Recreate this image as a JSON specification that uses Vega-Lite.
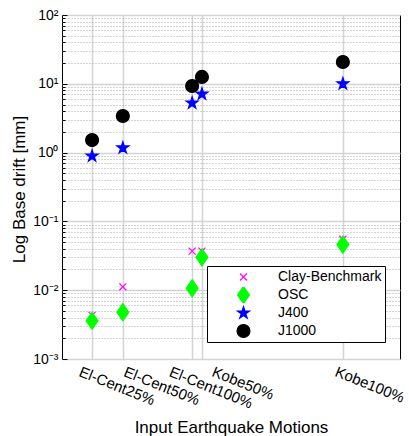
{
  "$schema": "https://vega.github.io/schema/vega-lite/v6.json",
  "width": 338,
  "height": 344,
  "autosize": {"type": "none"},
  "padding": {"left": 62, "top": 15, "right": 9, "bottom": 77},
  "background": "white",
  "config": {
    "font": "Liberation Sans",
    "view": {"stroke": "black", "strokeWidth": 1}
  },
  "data": {
    "values": [
      {"series": "Clay-Benchmark", "motion": "El-Cent25%", "pga": 0.089, "drift": 0.0043},
      {"series": "Clay-Benchmark", "motion": "El-Cent50%", "pga": 0.18, "drift": 0.0112},
      {"series": "Clay-Benchmark", "motion": "El-Cent100%", "pga": 0.385, "drift": 0.037},
      {"series": "Clay-Benchmark", "motion": "Kobe50%", "pga": 0.414, "drift": 0.037},
      {"series": "Clay-Benchmark", "motion": "Kobe100%", "pga": 0.831, "drift": 0.055},
      {"series": "OSC", "motion": "El-Cent25%", "pga": 0.089, "drift": 0.0036},
      {"series": "OSC", "motion": "El-Cent50%", "pga": 0.18, "drift": 0.0048},
      {"series": "OSC", "motion": "El-Cent100%", "pga": 0.385, "drift": 0.0107},
      {"series": "OSC", "motion": "Kobe50%", "pga": 0.414, "drift": 0.030},
      {"series": "OSC", "motion": "Kobe100%", "pga": 0.831, "drift": 0.046},
      {"series": "J400", "motion": "El-Cent25%", "pga": 0.089, "drift": 0.89},
      {"series": "J400", "motion": "El-Cent50%", "pga": 0.18, "drift": 1.17},
      {"series": "J400", "motion": "El-Cent100%", "pga": 0.385, "drift": 5.25},
      {"series": "J400", "motion": "Kobe50%", "pga": 0.414, "drift": 7.1},
      {"series": "J400", "motion": "Kobe100%", "pga": 0.831, "drift": 10.0},
      {"series": "J1000", "motion": "El-Cent25%", "pga": 0.089, "drift": 1.52},
      {"series": "J1000", "motion": "El-Cent50%", "pga": 0.18, "drift": 3.4},
      {"series": "J1000", "motion": "El-Cent100%", "pga": 0.385, "drift": 9.3},
      {"series": "J1000", "motion": "Kobe50%", "pga": 0.414, "drift": 12.6},
      {"series": "J1000", "motion": "Kobe100%", "pga": 0.831, "drift": 20.7}
    ]
  },
  "mark": {"type": "point", "filled": true, "strokeWidth": 1.2, "opacity": 1, "size": 289},
  "encoding": {
    "x": {
      "field": "pga",
      "type": "quantitative",
      "scale": {"domain": [0, 1], "nice": false, "zero": false},
      "axis": {
        "title": "Input Earthquake Motions",
        "titleFont": "Liberation Sans",
        "titleFontSize": 17,
        "titleFontWeight": "normal",
        "titleColor": "black",
        "titleBaseline": "alphabetic",
        "titleAlign": "center",
        "titleX": 169,
        "titleY": 73,
        "values": [0.089, 0.18, 0.385, 0.414, 0.831],
        "labelExpr": "datum.value < 0.1 ? 'El-Cent25%' : datum.value < 0.2 ? 'El-Cent50%' : datum.value < 0.4 ? 'El-Cent100%' : datum.value < 0.5 ? 'Kobe50%' : 'Kobe100%'",
        "labelAngle": 22,
        "labelAlign": "left",
        "labelBaseline": "top",
        "labelFontSize": 15,
        "labelColor": "black",
        "labelPadding": 5,
        "labelOffset": {"condition": [{"test": "datum.value < 0.1", "value": -10}, {"test": "datum.value < 0.2", "value": 4}, {"test": "datum.value < 0.4", "value": -20}, {"test": "datum.value < 0.5", "value": 13}], "value": -5},
        "labelFlush": false,
        "labelOverlap": false,
        "ticks": false,
        "domain": false,
        "grid": true,
        "gridColor": "#d4d4d4",
        "gridWidth": 1.5
      }
    },
    "y": {
      "field": "drift",
      "type": "quantitative",
      "scale": {"type": "log", "domain": [0.001, 100], "nice": false},
      "axis": {
        "title": "Log Base drift [mm]",
        "titleFont": "Liberation Sans",
        "titleFontSize": 17,
        "titleFontWeight": "normal",
        "titleColor": "black",
        "titleAngle": 270,
        "titleAlign": "center",
        "titleBaseline": "middle",
        "titleX": -43,
        "titleY": 174,
        "values": [0.001, 0.002, 0.003, 0.004, 0.005, 0.006, 0.007, 0.008, 0.009, 0.01, 0.02, 0.03, 0.04, 0.05, 0.06, 0.07, 0.08, 0.09, 0.1, 0.2, 0.3, 0.4, 0.5, 0.6, 0.7, 0.8, 0.9, 1, 2, 3, 4, 5, 6, 7, 8, 9, 10, 20, 30, 40, 50, 60, 70, 80, 90, 100],
        "labelExpr": "abs(log(datum.value)/LN10 - round(log(datum.value)/LN10)) > 0.001 ? '' : (round(log(datum.value)/LN10) == 2 ? '10²' : round(log(datum.value)/LN10) == 1 ? '10¹' : round(log(datum.value)/LN10) == 0 ? '10⁰' : round(log(datum.value)/LN10) == -1 ? '10⁻¹' : round(log(datum.value)/LN10) == -2 ? '10⁻²' : '10⁻³')",
        "labelFontSize": 14,
        "labelColor": "black",
        "labelPadding": {"condition": {"test": "abs(log(datum.value)/LN10 - round(log(datum.value)/LN10)) < 0.001", "value": 9}, "value": 7},
        "labelOverlap": false,
        "labelFlush": false,
        "ticks": true,
        "tickColor": "black",
        "tickWidth": 1,
        "tickSize": {"condition": {"test": "abs(log(datum.value)/LN10 - round(log(datum.value)/LN10)) < 0.001", "value": -5}, "value": -3},
        "domain": false,
        "grid": true,
        "gridColor": {"condition": {"test": "abs(log(datum.value)/LN10 - round(log(datum.value)/LN10)) < 0.001", "value": "#d4d4d4"}, "value": "#aaaaaa"},
        "gridDash": {"condition": {"test": "abs(log(datum.value)/LN10 - round(log(datum.value)/LN10)) < 0.001", "value": []}, "value": [1, 2]},
        "gridWidth": {"condition": {"test": "abs(log(datum.value)/LN10 - round(log(datum.value)/LN10)) < 0.001", "value": 1.5}, "value": 1}
      }
    },
    "fill": {
      "field": "series",
      "type": "nominal",
      "scale": {"domain": ["Clay-Benchmark", "OSC", "J400", "J1000"], "range": ["#ff00ff", "#00ff00", "#0000ff", "#000000"]},
      "legend": {
        "title": null,
        "orient": "none",
        "legendX": 145,
        "legendY": 251,
        "fillColor": "white",
        "strokeColor": "black",
        "padding": 3,
        "symbolOffset": 24,
        "labelOffset": 25,
        "rowPadding": 2,
        "clipHeight": 16,
        "symbolSize": 289,
        "labelFontSize": 14,
        "labelColor": "black",
        "labelFont": "Liberation Sans",
        "symbolStrokeWidth": 1.2,
        "symbolOpacity": 1,
        "cornerRadius": 0
      }
    },
    "stroke": {
      "field": "series",
      "type": "nominal",
      "scale": {"domain": ["Clay-Benchmark", "OSC", "J400", "J1000"], "range": ["#ff00ff", "#00ff00", "#0000ff", "#000000"]}
    },
    "shape": {
      "field": "series",
      "type": "nominal",
      "scale": {"domain": ["Clay-Benchmark", "OSC", "J400", "J1000"], "range": [
        "M-0.41,-0.41L0.41,0.41M0.41,-0.41L-0.41,0.41",
        "M0,-1L0.7,0L0,1L-0.7,0Z",
        "M0,-0.742L0.167,-0.229L0.706,-0.229L0.269,0.088L0.436,0.6L0,0.283L-0.436,0.6L-0.269,0.088L-0.706,-0.229L-0.167,-0.229Z",
        "M0.76,0A0.76,0.76,0,1,1,-0.76,0A0.76,0.76,0,1,1,0.76,0Z"
      ]}
    }
  }
}
